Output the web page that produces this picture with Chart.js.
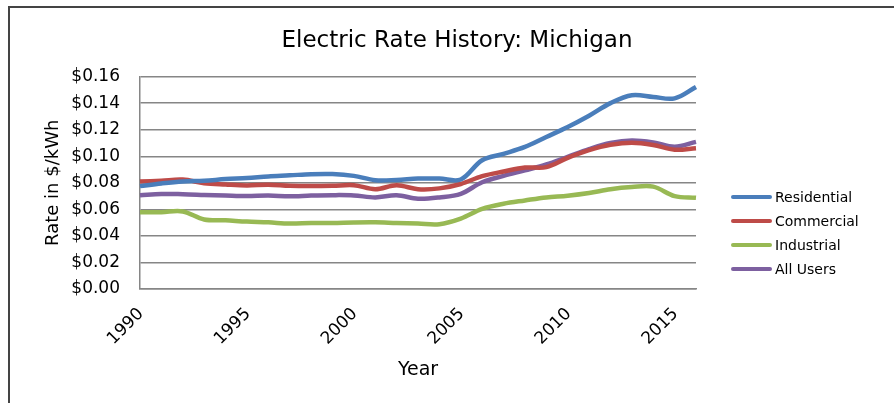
<!DOCTYPE html>
<html>
<head>
<meta charset="utf-8">
<script src="https://cdn.jsdelivr.net/npm/chart.js@4.4.1/dist/chart.umd.min.js"></script>
<style>
  html, body { margin: 0; padding: 0; background: #fff; overflow: hidden; }
  #frame { position: absolute; left: 8px; top: 6px; width: 894px; height: 408px; border: 2px solid #444; }
  #frame canvas { display: block; }
  #legend { position: absolute; left: 731px; top: 185px; font-family: "DejaVu Sans", sans-serif; font-size: 14px; color: #000; }
  .item { height: 24px; display: flex; align-items: center; }
  .swatch { width: 41px; height: 4px; border-radius: 2px; margin-right: 3px; }
</style>
</head>
<body>
<div id="frame"><canvas id="chart"></canvas></div>
<div id="legend"></div>
<script>
(function () {
    var years = [1990, 1991, 1992, 1993, 1994, 1995, 1996, 1997, 1998, 1999, 2000, 2001, 2002,
                 2003, 2004, 2005, 2006, 2007, 2008, 2009, 2010, 2011, 2012, 2013, 2014, 2015, 2016];

    var residential = [0.0775, 0.0795, 0.0810, 0.0815, 0.0828, 0.0836, 0.0848, 0.0856, 0.0865, 0.0866,
                       0.0852, 0.0820, 0.0822, 0.0832, 0.0832, 0.0825, 0.0970, 0.1018, 0.1070, 0.1145,
                       0.1220, 0.1305, 0.1400, 0.1460, 0.1447, 0.1436, 0.1522];
    var commercial = [0.0809, 0.0816, 0.0824, 0.0797, 0.0787, 0.0780, 0.0786, 0.0777, 0.0775, 0.0777,
                      0.0782, 0.0752, 0.0781, 0.0752, 0.0758, 0.0791, 0.0850, 0.0885, 0.0915, 0.0918,
                      0.0988, 0.1046, 0.1086, 0.1102, 0.1085, 0.1049, 0.1061];
    var industrial = [0.0579, 0.0579, 0.0584, 0.0524, 0.0517, 0.0508, 0.0502, 0.0493, 0.0497, 0.0497,
                      0.0501, 0.0502, 0.0497, 0.0493, 0.0488, 0.0530, 0.0603, 0.0642, 0.0667, 0.0690,
                      0.0703, 0.0723, 0.0752, 0.0768, 0.0771, 0.0700, 0.0687];
    var allUsers = [0.0707, 0.0716, 0.0714, 0.0709, 0.0704, 0.0700, 0.0704, 0.0698, 0.0704, 0.0707,
                    0.0705, 0.0690, 0.0706, 0.0680, 0.0690, 0.0717, 0.0804, 0.0852, 0.0894, 0.0938,
                    0.0996, 0.1054, 0.1100, 0.1119, 0.1104, 0.1071, 0.1108];

    var seriesNames = ['Residential', 'Commercial', 'Industrial', 'All Users'];
    var seriesColors = ['#4a7ebb', '#be4b48', '#98b954', '#7d60a0'];
    var seriesData = [residential, commercial, industrial, allUsers];

    var font = '"DejaVu Sans", sans-serif';

    new Chart(document.getElementById('chart'), {
        type: 'line',
        data: {
            labels: years,
            datasets: seriesNames.map(function (name, i) {
                return {
                    label: name,
                    data: seriesData[i],
                    borderColor: seriesColors[i],
                    backgroundColor: seriesColors[i],
                    borderWidth: 4.5,
                    pointRadius: 0,
                    tension: 0.35,
                    fill: false
                };
            })
        },
        options: {
            responsive: true,
            maintainAspectRatio: false,
            animation: false,
            layout: { padding: 0 },
            plugins: {
                legend: { display: false },
                tooltip: { enabled: false },
                title: {
                    display: true,
                    text: 'Electric Rate History: Michigan',
                    color: '#000',
                    font: { family: font, size: 23, weight: 'normal' },
                    padding: { top: 19, bottom: 22 }
                }
            },
            scales: {
                x: {
                    grid: { display: false },
                    border: { display: true, color: '#868686', width: 1.5 },
                    afterFit: function (s) { s.height = 127; },
                    ticks: {
                        autoSkip: false,
                        maxRotation: 45,
                        minRotation: 45,
                        labelOffset: 1,
                        padding: 7,
                        color: '#000',
                        font: { family: font, size: 17 },
                        callback: function (v, i) { return years[i] % 5 === 0 ? String(years[i]) : ''; }
                    },
                    title: {
                        display: true,
                        text: 'Year',
                        color: '#000',
                        font: { family: font, size: 19 },
                        padding: { top: 0, bottom: 35 }
                    }
                },
                y: {
                    min: 0,
                    max: 0.16,
                    afterFit: function (s) { s.width = 130; },
                    grid: { color: '#868686', lineWidth: 1.5, drawTicks: false },
                    border: { display: true, color: '#868686', width: 1.5 },
                    ticks: {
                        stepSize: 0.02,
                        padding: 20,
                        color: '#000',
                        font: { family: font, size: 17 },
                        callback: function (v) { return '$' + v.toFixed(2); }
                    },
                    title: {
                        display: true,
                        text: 'Rate in $/kWh',
                        color: '#000',
                        font: { family: font, size: 18 },
                        padding: { top: 33, bottom: 0 }
                    }
                },
                // empty right-hand space where the legend sits
                side: {
                    type: 'linear',
                    position: 'right',
                    afterFit: function (s) { s.width = 208; },
                    grid: { display: false },
                    border: { display: false },
                    ticks: { display: false }
                }
            }
        }
    });

    // legend
    var legend = document.getElementById('legend');
    seriesNames.forEach(function (name, i) {
        var item = document.createElement('div');
        item.className = 'item';
        var sw = document.createElement('span');
        sw.className = 'swatch';
        sw.style.background = seriesColors[i];
        var txt = document.createElement('span');
        txt.textContent = name;
        item.appendChild(sw);
        item.appendChild(txt);
        legend.appendChild(item);
    });
})();
</script>
</body>
</html>
